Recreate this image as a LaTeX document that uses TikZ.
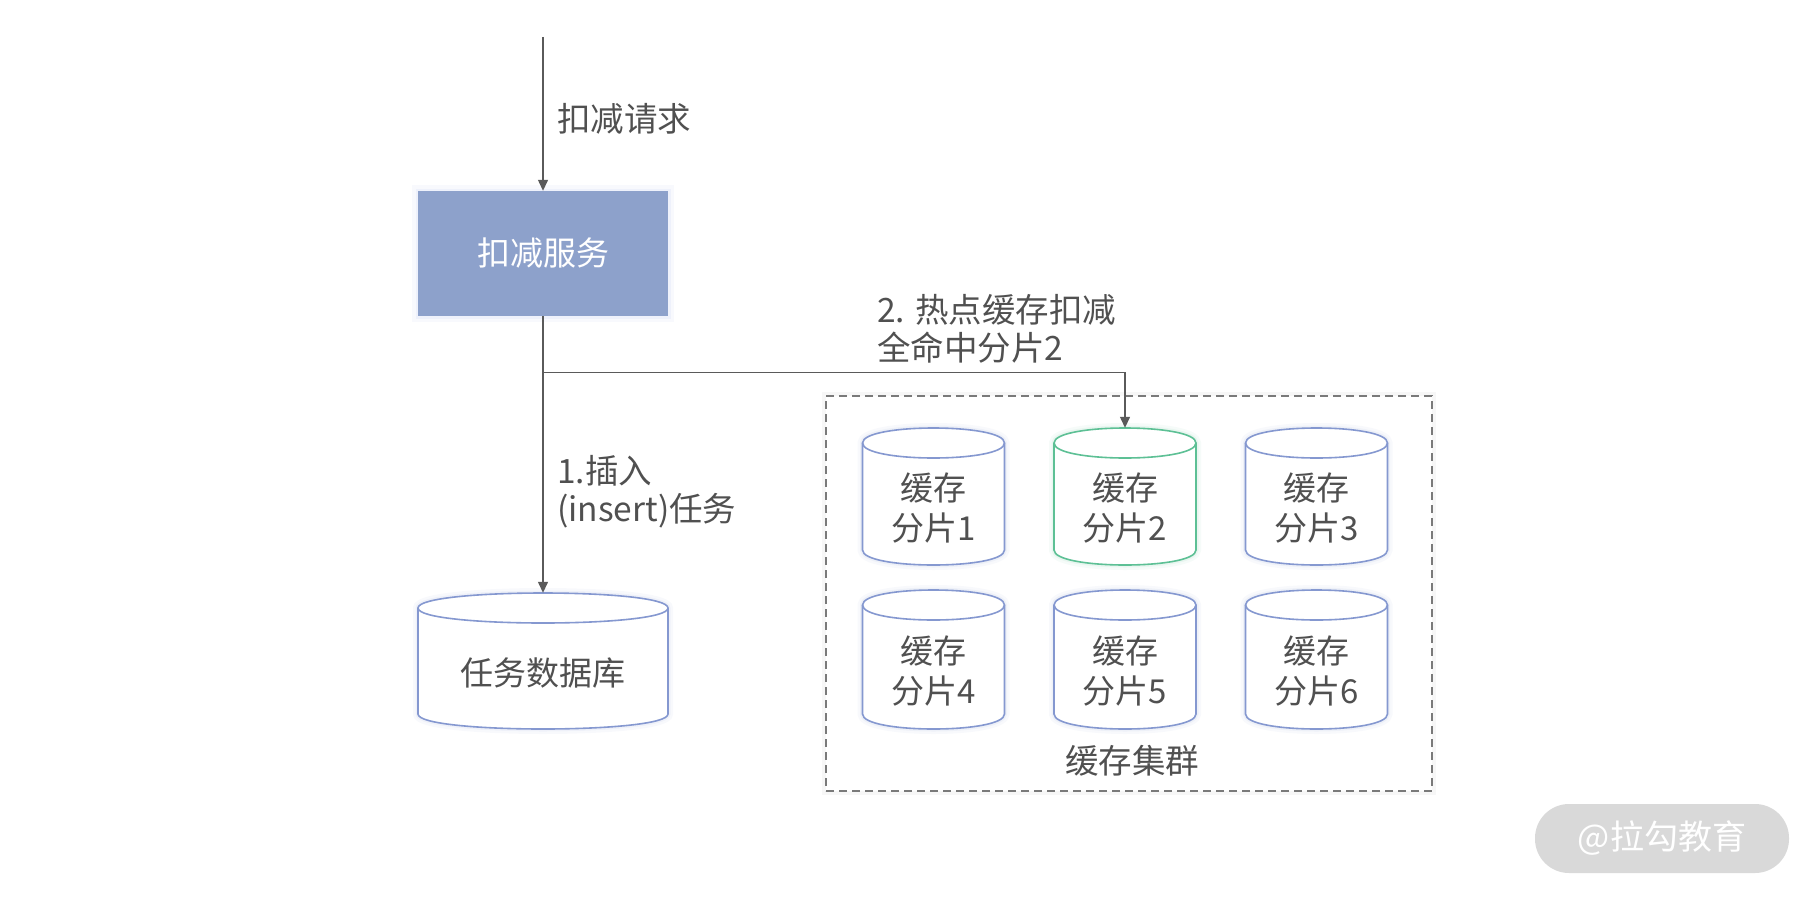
\documentclass[tikz,border=0pt]{standalone}
\usepackage{fontspec}
\setmainfont{Noto Sans CJK SC}
\usetikzlibrary{arrows.meta}
\definecolor{txt}{HTML}{505050}
\definecolor{linec}{HTML}{5A5A5A}
\definecolor{svcfill}{HTML}{8DA1CB}
\definecolor{cylblue}{HTML}{8598D0}
\definecolor{cylgreen}{HTML}{5DC095}
\definecolor{glowblue}{HTML}{B8C4EE}
\definecolor{dashc}{HTML}{7A7A7A}
\definecolor{wmfill}{HTML}{D9D9D9}
\tikzset{
  lbl/.style={text=txt, font=\fontsize{33.5}{38}\selectfont, inner sep=0pt},
  cyltext/.style={text=txt, font=\fontsize{33}{40}\selectfont, inner sep=0pt, align=center},
  conn/.style={draw=linec, line width=1.3pt, -{Triangle[length=11pt,width=10pt]}},
  svcbox/.style={fill=svcfill, draw=none, minimum width=250pt, minimum height=125pt, inner sep=0pt,
     text=white, font=\fontsize{33}{38}\selectfont,
     preaction={draw=glowblue, line width=12pt, opacity=0.10},
     preaction={draw=glowblue, line width=5pt, opacity=0.15}},
  cluster/.style={draw=dashc, line width=1.5pt, dash pattern=on 8pt off 5pt, fill=white,
     minimum width=606pt, minimum height=395pt, inner sep=0pt,
     preaction={draw=black!12, line width=8pt, opacity=0.25, solid}},
  wm/.style={fill=wmfill, rounded corners=34pt, minimum width=254pt, minimum height=69pt,
     inner sep=0pt, text=white, font=\fontsize{34}{40}\selectfont},
  holder/.style={inner sep=0pt, draw=none}
}
% #1 name, #2 cx, #3 top, #4 bottom, #5 half width, #6 colour, #7 text
\newcommand\drumcyl[7]{%
  \pgfmathsetmacro\cylL{#2-#5}%
  \pgfmathsetmacro\cylR{#2+#5}%
  \pgfmathsetmacro\cylT{#3+15}%
  \pgfmathsetmacro\cylTu{#3-5}%
  \pgfmathsetmacro\cylTd{#3+35}%
  \pgfmathsetmacro\cylB{#4-15}%
  \pgfmathsetmacro\cylBd{#4+5}%
  \pgfmathsetmacro\cylM{(#3+#4)/2}%
  \pgfmathsetmacro\cylTx{(#3+#4)/2+12}%
  \pgfmathsetmacro\cylH{#4-#3}%
  \pgfmathsetmacro\cylW{2*#5}%
  \draw[line width=1.6pt, draw=#6, fill=white,
        preaction={draw=#6!45, line width=10pt, opacity=0.12},
        preaction={draw=#6!45, line width=5pt, opacity=0.2}]
    (\cylL,\cylT) -- (\cylL,\cylB) .. controls (\cylL,\cylBd) and (\cylR,\cylBd) .. (\cylR,\cylB)
    -- (\cylR,\cylT) .. controls (\cylR,\cylTu) and (\cylL,\cylTu) .. (\cylL,\cylT) -- cycle;
  \draw[line width=1.6pt, draw=#6]
    (\cylL,\cylT) .. controls (\cylL,\cylTd) and (\cylR,\cylTd) .. (\cylR,\cylT);
  \node[holder, minimum width=\cylW pt, minimum height=\cylH pt] (#1) at (#2,\cylM) {};
  \node[cyltext] (#1-txt) at (#2,\cylTx) {#7};
}
\begin{document}
\begin{tikzpicture}[x=1pt, y=-1pt]
\useasboundingbox (0,0) rectangle (1814,899);

% cluster frame
\node[cluster] (clus) at (1129,593.5) {};
\node[lbl] (clus-lbl) at (1132,761) {缓存集群};

% service box
\node[svcbox] (svc) at (543,253.5) {扣减服务};

% cylinders
\drumcyl{db}{543}{593}{729}{125}{cylblue}{任务数据库}
\drumcyl{c1}{933.5}{428}{565}{71}{cylblue}{缓存\\分片1}
\drumcyl{c2}{1125}{428}{565}{71}{cylgreen}{缓存\\分片2}
\drumcyl{c3}{1316.5}{428}{565}{71}{cylblue}{缓存\\分片3}
\drumcyl{c4}{933.5}{590}{729}{71}{cylblue}{缓存\\分片4}
\drumcyl{c5}{1125}{590}{729}{71}{cylblue}{缓存\\分片5}
\drumcyl{c6}{1316.5}{590}{729}{71}{cylblue}{缓存\\分片6}

% connectors
\coordinate (start) at (543,37);
\coordinate (br) at (543,372.5);
\draw[conn] (start) -- (svc.north);
\draw[conn] (svc.south) -- (db.north);
\draw[conn] (br) -| (c2.north);

% labels
\node[lbl, anchor=west] (lreq) at (557,119) {扣减请求};
\node[lbl, anchor=west, align=left] (lhot) at (877,329) {2. 热点缓存扣减\\全命中分片2};
\node[lbl, anchor=west, align=left] (lins) at (557,491.5) {1.插入\\(insert)任务};

% watermark
\node[wm] (wm) at (1662,838.5) {@拉勾教育};
\end{tikzpicture}
\end{document}
